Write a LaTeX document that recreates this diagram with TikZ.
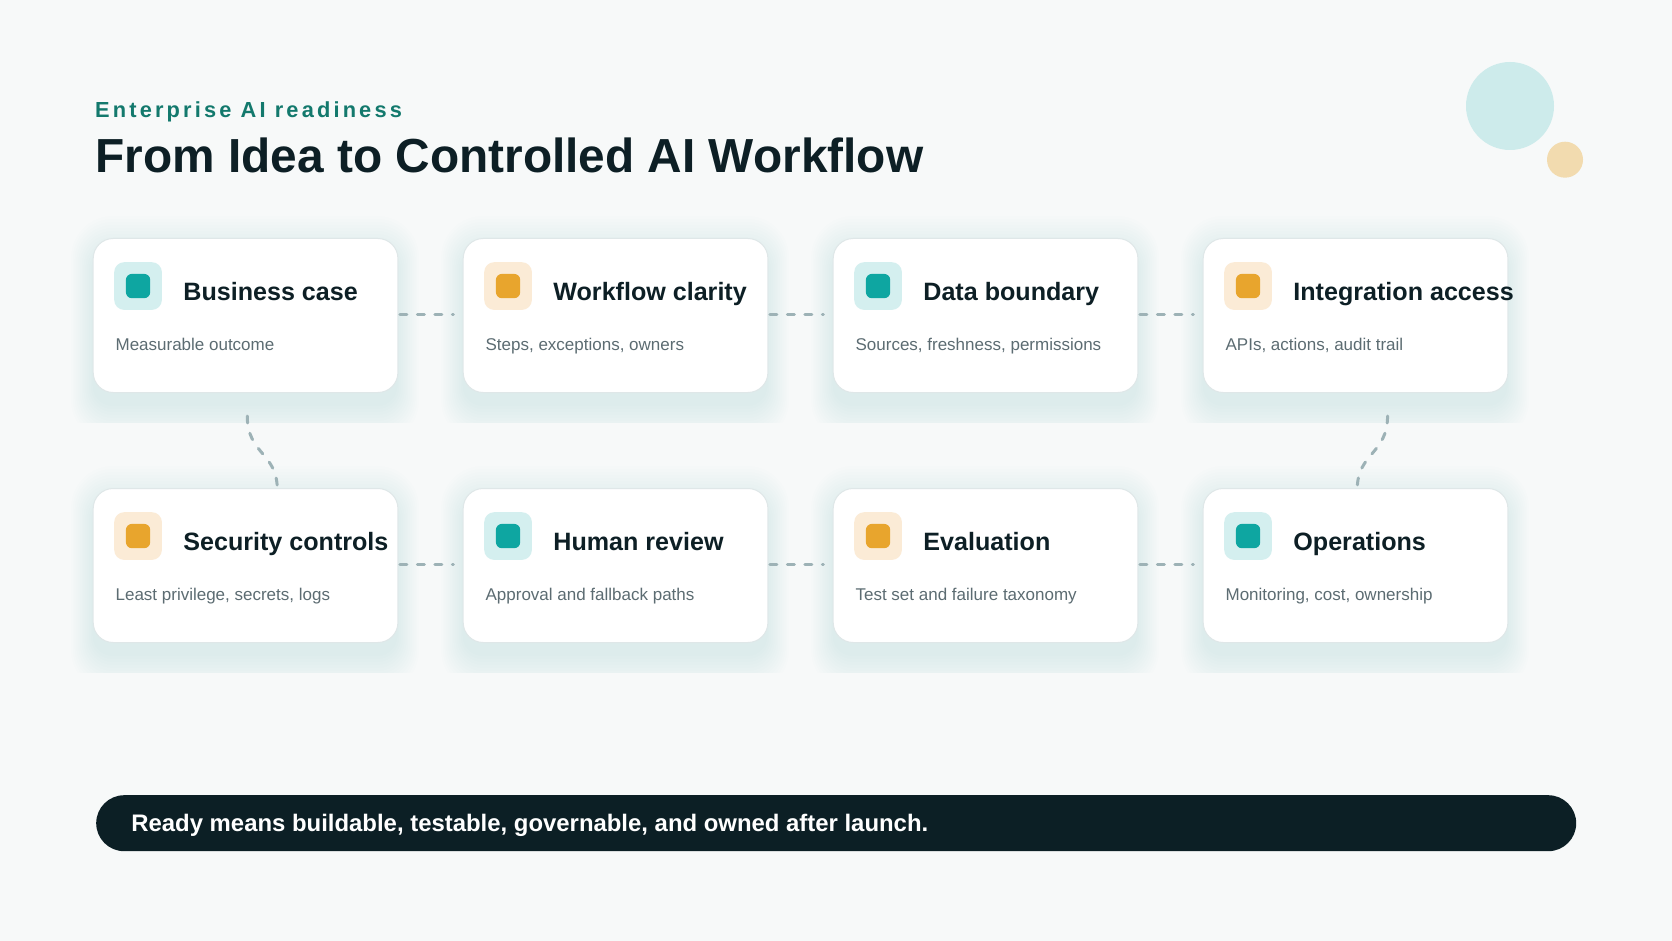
\documentclass[tikz,border=0pt]{standalone}
\usepackage{fontspec}
\setmainfont{Liberation Sans}
\newfontfamily\kickerfont[LetterSpace=14.5]{Liberation Sans}
\definecolor{bg}{HTML}{F7F9F9}
\definecolor{kicker}{HTML}{13796D}
\definecolor{ink}{HTML}{0D1F25}
\definecolor{cardline}{HTML}{DFE7E8}
\definecolor{shadowc}{HTML}{5F7F85}
\definecolor{tealcore}{HTML}{0EA6A1}
\definecolor{tealsoft}{HTML}{D4EFEF}
\definecolor{ambercore}{HTML}{E8A52D}
\definecolor{ambersoft}{HTML}{FBEBD6}
\definecolor{subgray}{HTML}{5C6C72}
\definecolor{conn}{HTML}{9DB2B6}
\definecolor{circT}{HTML}{CDEBEB}
\definecolor{circA}{HTML}{F2DBAF}
\definecolor{barc}{HTML}{0C1F25}
\newcommand\mkshadow[2]{%
  \foreach \e in {0,3,...,36}{%
    \pgfmathsetmacro\rr{20+0.6*\e}%
    \pgfmathsetmacro\ex{0.6*\e}%
    \fill[shadowc, opacity=0.009, rounded corners=\rr pt]
      ({#1-\ex},{#2+14-\e}) rectangle ({#1+304.7+\ex},{#2+154+14+\e});
  }%
}
\newcommand\mkcard[7]{%
  \node[card] (#1) at (#2,#3) {};
  \node[iconbox, fill=#6] (#1i) at ([xshift=21.3pt,yshift=-24pt]#1.north west) {};
  \node[iconcore, fill=#7] (#1k) at (#1i.center) {};
  \node[ctitle] (#1t) at ([xshift=90.5pt,yshift=-62pt]#1.north west) {#4};
  \node[csub] (#1s) at ([xshift=22.7pt,yshift=-112pt]#1.north west) {#5};
}
\begin{document}
\begin{tikzpicture}[x=1pt,y=-1pt,
  card/.style={draw=cardline, line width=1pt, fill=white, rounded corners=20pt,
    minimum width=304.7pt, minimum height=154pt, inner sep=0pt, anchor=north west},
  iconbox/.style={rounded corners=10pt, minimum size=47.7pt, inner sep=0pt, anchor=north west},
  iconcore/.style={rounded corners=6pt, minimum size=24.3pt, inner sep=0pt},
  ctitle/.style={anchor=base west, inner sep=0pt, text=ink,
    font=\fontsize{25.1}{28}\selectfont\bfseries},
  csub/.style={anchor=base west, inner sep=0pt, text=subgray,
    font=\fontsize{17}{20}\selectfont},
  link/.style={draw=conn, line width=3pt, line cap=round, dash pattern=on 7pt off 10.5pt},
]
\useasboundingbox (0,0) rectangle (1672,941);
\fill[bg] (0,0) rectangle (1672,941);

% decorative circles
\node[circle, fill=circT, minimum size=88pt, inner sep=0pt] (d1) at (1510,106) {};
\node[circle, fill=circA, minimum size=36pt, inner sep=0pt] (d2) at (1565,159.7) {};

% header
\node[anchor=base west, inner sep=0pt, text=kicker,
  font=\kickerfont\fontsize{21.8}{24}\selectfont\bfseries] (kick) at (95,117.3) {Enterprise AI readiness};
\node[anchor=base west, inner sep=0pt, text=ink,
  font=\fontsize{47.8}{52}\selectfont\bfseries] (title) at (95.3,173) {From Idea to Controlled AI Workflow};

% shadows
\begin{scope}
  \clip (40,200) rectangle (1600,422.7);
  \mkshadow{92.7}{238}\mkshadow{462.7}{238}\mkshadow{832.7}{238}\mkshadow{1202.7}{238}
\end{scope}
\begin{scope}
  \clip (40,450) rectangle (1600,672.7);
  \mkshadow{92.7}{488}\mkshadow{462.7}{488}\mkshadow{832.7}{488}\mkshadow{1202.7}{488}
\end{scope}

% cards row 1
\mkcard{c1}{92.7}{238}{Business case}{Measurable outcome}{tealsoft}{tealcore}
\mkcard{c2}{462.7}{238}{Workflow clarity}{Steps, exceptions, owners}{ambersoft}{ambercore}
\mkcard{c3}{832.7}{238}{Data boundary}{Sources, freshness, permissions}{tealsoft}{tealcore}
\mkcard{c4}{1202.7}{238}{Integration access}{APIs, actions, audit trail}{ambersoft}{ambercore}
% cards row 2
\mkcard{c5}{92.7}{488}{Security controls}{Least privilege, secrets, logs}{ambersoft}{ambercore}
\mkcard{c6}{462.7}{488}{Human review}{Approval and fallback paths}{tealsoft}{tealcore}
\mkcard{c7}{832.7}{488}{Evaluation}{Test set and failure taxonomy}{ambersoft}{ambercore}
\mkcard{c8}{1202.7}{488}{Operations}{Monitoring, cost, ownership}{tealsoft}{tealcore}

% horizontal connectors
\foreach \a/\b in {c1/c2,c2/c3,c3/c4,c5/c6,c6/c7,c7/c8}{
  \draw[link] ([xshift=1.5pt,yshift=1.3pt]\a.east) -- ([xshift=-9.3pt,yshift=1.3pt]\b.west);
}
% vertical connectors
\draw[link] ([xshift=1.7pt,yshift=-23pt]c1.south) .. controls +(0,38) and +(0,-36) .. ([xshift=31.7pt,yshift=-1pt]c5.north);
\draw[link] ([xshift=32pt,yshift=-23pt]c4.south) .. controls +(0,38) and +(0,-36) .. ([xshift=1.7pt,yshift=-1pt]c8.north);

% bottom bar
\node[fill=barc, rounded corners=28pt, minimum width=1480pt, minimum height=56pt,
  inner sep=0pt, anchor=north west] (bar) at (96,795) {};
\node[anchor=base west, inner sep=0pt, text=white,
  font=\fontsize{23.9}{27}\selectfont\bfseries] (bartext) at (131.2,831.5)
  {Ready means buildable, testable, governable, and owned after launch.};
\end{tikzpicture}
\end{document}
